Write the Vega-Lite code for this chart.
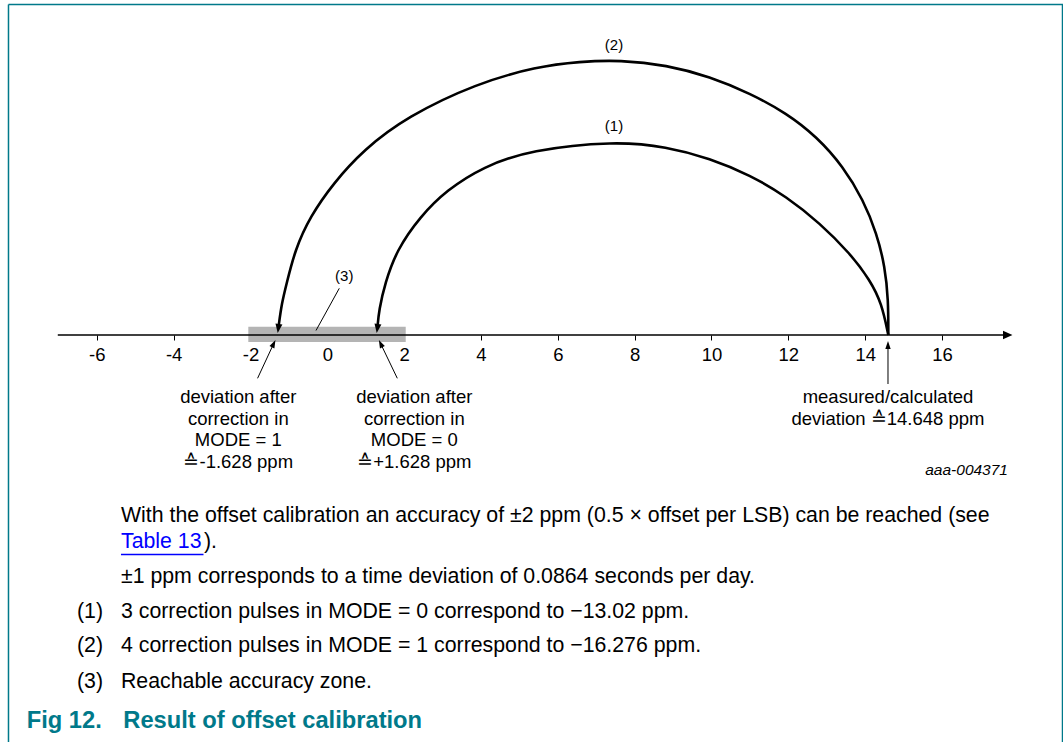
{
  "$schema": "https://vega.github.io/schema/vega-lite/v6.json",
  "width": 1063,
  "height": 742,
  "padding": 0,
  "autosize": {"type": "none"},
  "background": "white",
  "config": {"view": {"stroke": null}},
  "datasets": {
    "arcs": [
      {"arc": 2, "seq": 1, "x": 14.602, "y": 0},
      {"arc": 2, "seq": 2, "x": 14.602, "y": 35},
      {"arc": 2, "seq": 3, "x": 14.516, "y": 68.3},
      {"arc": 2, "seq": 4, "x": 14.300, "y": 101.7},
      {"arc": 2, "seq": 5, "x": 13.951, "y": 135},
      {"arc": 2, "seq": 6, "x": 13.431, "y": 168.3},
      {"arc": 2, "seq": 7, "x": 12.738, "y": 198.3},
      {"arc": 2, "seq": 8, "x": 11.957, "y": 221.7},
      {"arc": 2, "seq": 9, "x": 11.002, "y": 241.7},
      {"arc": 2, "seq": 10, "x": 9.961, "y": 258.3},
      {"arc": 2, "seq": 11, "x": 8.834, "y": 270},
      {"arc": 2, "seq": 12, "x": 7.618, "y": 275},
      {"arc": 2, "seq": 13, "x": 6.577, "y": 273.5},
      {"arc": 2, "seq": 14, "x": 5.450, "y": 268.3},
      {"arc": 2, "seq": 15, "x": 3.889, "y": 251.7},
      {"arc": 2, "seq": 16, "x": 2.067, "y": 218.3},
      {"arc": 2, "seq": 17, "x": 0.937, "y": 185},
      {"arc": 2, "seq": 18, "x": 0.156, "y": 151.7},
      {"arc": 2, "seq": 19, "x": -0.450, "y": 118.3},
      {"arc": 2, "seq": 20, "x": -0.841, "y": 85},
      {"arc": 2, "seq": 21, "x": -1.057, "y": 51.7},
      {"arc": 2, "seq": 22, "x": -1.187, "y": 31.7},
      {"arc": 2, "seq": 23, "x": -1.273, "y": 7},
      {"arc": 1, "seq": 1, "x": 14.602, "y": 0},
      {"arc": 1, "seq": 2, "x": 14.430, "y": 31.7},
      {"arc": 1, "seq": 3, "x": 14.126, "y": 55},
      {"arc": 1, "seq": 4, "x": 13.605, "y": 81.7},
      {"arc": 1, "seq": 5, "x": 12.824, "y": 111.7},
      {"arc": 1, "seq": 6, "x": 11.957, "y": 138.3},
      {"arc": 1, "seq": 7, "x": 11.002, "y": 160},
      {"arc": 1, "seq": 8, "x": 9.961, "y": 176.7},
      {"arc": 1, "seq": 9, "x": 8.834, "y": 188.3},
      {"arc": 1, "seq": 10, "x": 7.488, "y": 194},
      {"arc": 1, "seq": 11, "x": 5.276, "y": 185},
      {"arc": 1, "seq": 12, "x": 4.060, "y": 168.3},
      {"arc": 1, "seq": 13, "x": 3.108, "y": 145},
      {"arc": 1, "seq": 14, "x": 2.413, "y": 118.3},
      {"arc": 1, "seq": 15, "x": 1.806, "y": 85},
      {"arc": 1, "seq": 16, "x": 1.502, "y": 51.7},
      {"arc": 1, "seq": 17, "x": 1.346, "y": 25},
      {"arc": 1, "seq": 18, "x": 1.304, "y": 7}
    ],
    "band": [
      {"x": -2.056, "x2": 2.041, "y": 8.3, "y2": -7}
    ],
    "segs": [
      {"kind": "axis", "x": -7.015, "y": 0, "x2": 17.65, "y2": 0},
      {"kind": "thin", "x": 0.312, "y": 46.7, "x2": -0.294, "y2": 4.5},
      {"kind": "thin", "x": -1.815, "y": -43.3, "x2": -1.400, "y2": -9},
      {"kind": "thin", "x": 1.822, "y": -43.3, "x2": 1.393, "y2": -9},
      {"kind": "thin", "x": 14.594, "y": -49, "x2": 14.594, "y2": -10.5},
      {"kind": "border", "x": -8.298, "y": 330.5, "x2": 19.149, "y2": 330.5},
      {"kind": "border", "x": -8.298, "y": 330.5, "x2": -8.298, "y2": -407},
      {"kind": "border", "x": 19.136, "y": 330.5, "x2": 19.136, "y2": -407},
      {"kind": "link", "x": -5.370, "y": -219.5, "x2": -3.222, "y2": -219.5}
    ],
    "heads": [
      {"kind": "arc", "x": -1.273, "y": 7},
      {"kind": "arc", "x": 1.304, "y": 7},
      {"kind": "pl", "x": -1.400, "y": -9},
      {"kind": "pr", "x": 1.393, "y": -9},
      {"kind": "pv", "x": 14.594, "y": -10.5},
      {"kind": "ax", "x": 17.697, "y": 0}
    ],
    "texts": [
      {"kind": "num", "x": 7.462, "y": 285, "t": "(2)"},
      {"kind": "num", "x": 7.462, "y": 204.5, "t": "(1)"},
      {"kind": "num", "x": 0.442, "y": 54.5, "t": "(3)"},
      {"kind": "diag", "x": -2.317, "y": -68, "t": "deviation after"},
      {"kind": "diag", "x": -2.317, "y": -89.5, "t": "correction in"},
      {"kind": "diag", "x": -2.317, "y": -111, "t": "MODE = 1"},
      {"kind": "diag", "x": -2.317, "y": -132.5, "t": "≙-1.628 ppm"},
      {"kind": "diag", "x": 2.264, "y": -68, "t": "deviation after"},
      {"kind": "diag", "x": 2.264, "y": -89.5, "t": "correction in"},
      {"kind": "diag", "x": 2.264, "y": -111, "t": "MODE = 0"},
      {"kind": "diag", "x": 2.264, "y": -132.5, "t": "≙+1.628 ppm"},
      {"kind": "diag", "x": 14.594, "y": -68, "t": "measured/calculated"},
      {"kind": "diag", "x": 14.594, "y": -89.5, "t": "deviation ≙14.648 ppm"},
      {"kind": "code", "x": 17.717, "y": -140, "t": "aaa-004371"},
      {"kind": "body", "x": -5.370, "y": -186.7, "t": "With the offset calibration an accuracy of ±2 ppm (0.5 × offset per LSB) can be reached (see"},
      {"kind": "link", "x": -5.370, "y": -213.3, "t": "Table 13"},
      {"kind": "body", "x": -3.209, "y": -213.3, "t": ")."},
      {"kind": "body", "x": -5.370, "y": -248.3, "t": "±1 ppm corresponds to a time deviation of 0.0864 seconds per day."},
      {"kind": "body", "x": -6.515, "y": -283.3, "t": "(1)"},
      {"kind": "body", "x": -5.370, "y": -283.3, "t": "3 correction pulses in MODE = 0 correspond to −13.02 ppm."},
      {"kind": "body", "x": -6.515, "y": -317.3, "t": "(2)"},
      {"kind": "body", "x": -5.370, "y": -317.3, "t": "4 correction pulses in MODE = 1 correspond to −16.276 ppm."},
      {"kind": "body", "x": -6.515, "y": -352.7, "t": "(3)"},
      {"kind": "body", "x": -5.370, "y": -352.7, "t": "Reachable accuracy zone."},
      {"kind": "fig", "x": -7.824, "y": -393.3, "t": "Fig 12."},
      {"kind": "fig", "x": -5.310, "y": -393.3, "t": "Result of offset calibration"}
    ]
  },
  "encoding": {
    "x": {
      "field": "x",
      "type": "quantitative",
      "scale": {"domain": [-8.519, 19.149], "nice": false, "zero": false},
      "axis": {
        "orient": "bottom",
        "offset": -407,
        "values": [-6, -4, -2, 0, 2, 4, 6, 8, 10, 12, 14, 16],
        "labelExpr": "datum.value + ''",
        "domain": false,
        "grid": false,
        "title": null,
        "ticks": true,
        "tickSize": 5,
        "tickWidth": 1,
        "tickColor": "#000000",
        "labelFont": "Liberation Sans",
        "labelFontSize": 18.5,
        "labelColor": "#000000",
        "labelPadding": 5,
        "labelFlush": false,
        "labelOverlap": false
      }
    },
    "y": {
      "field": "y",
      "type": "quantitative",
      "scale": {"domain": [-407, 335], "nice": false, "zero": false},
      "axis": null
    }
  },
  "layer": [
    {
      "data": {"name": "band"},
      "mark": {"type": "rect", "color": "#b4b4b4"},
      "encoding": {"x2": {"field": "x2"}, "y2": {"field": "y2"}}
    },
    {
      "data": {"name": "segs"},
      "transform": [{"filter": "datum.kind == 'axis'"}],
      "mark": {"type": "rule", "color": "#000000", "strokeWidth": 1.5},
      "encoding": {"x2": {"field": "x2"}, "y2": {"field": "y2"}}
    },
    {
      "data": {"name": "segs"},
      "transform": [{"filter": "datum.kind == 'thin'"}],
      "mark": {"type": "rule", "color": "#000000", "strokeWidth": 1},
      "encoding": {"x2": {"field": "x2"}, "y2": {"field": "y2"}}
    },
    {
      "data": {"name": "segs"},
      "transform": [{"filter": "datum.kind == 'border'"}],
      "mark": {"type": "rule", "color": "#00798a", "strokeWidth": 1.5},
      "encoding": {"x2": {"field": "x2"}, "y2": {"field": "y2"}}
    },
    {
      "data": {"name": "segs"},
      "transform": [{"filter": "datum.kind == 'link'"}],
      "mark": {"type": "rule", "color": "#0000ff", "strokeWidth": 1.5},
      "encoding": {"x2": {"field": "x2"}, "y2": {"field": "y2"}}
    },
    {
      "data": {"name": "arcs"},
      "mark": {"type": "line", "color": "#000000", "strokeWidth": 2.6, "interpolate": "basis"},
      "encoding": {"detail": {"field": "arc"}, "order": {"field": "seq"}}
    },
    {
      "data": {"name": "heads"},
      "transform": [{"filter": "datum.kind == 'arc'"}],
      "mark": {"type": "point", "shape": "M0,-1L0.7,0.8L-0.7,0.8Z", "filled": true, "size": 100, "angle": 188, "color": "#000000", "opacity": 1}
    },
    {
      "data": {"name": "heads"},
      "transform": [{"filter": "datum.kind == 'pl'"}],
      "mark": {"type": "point", "shape": "M0,-1L0.6,0.8L-0.6,0.8Z", "filled": true, "size": 80, "angle": 26, "color": "#000000", "opacity": 1}
    },
    {
      "data": {"name": "heads"},
      "transform": [{"filter": "datum.kind == 'pr'"}],
      "mark": {"type": "point", "shape": "M0,-1L0.6,0.8L-0.6,0.8Z", "filled": true, "size": 80, "angle": 334, "color": "#000000", "opacity": 1}
    },
    {
      "data": {"name": "heads"},
      "transform": [{"filter": "datum.kind == 'pv'"}],
      "mark": {"type": "point", "shape": "M0,-1L0.6,0.8L-0.6,0.8Z", "filled": true, "size": 80, "angle": 0, "color": "#000000", "opacity": 1}
    },
    {
      "data": {"name": "heads"},
      "transform": [{"filter": "datum.kind == 'ax'"}],
      "mark": {"type": "point", "shape": "M0,-1L0.8,0.8L-0.8,0.8Z", "filled": true, "size": 110, "angle": 90, "color": "#000000", "opacity": 1}
    },
    {
      "data": {"name": "texts"},
      "transform": [{"filter": "datum.kind == 'num'"}],
      "mark": {"type": "text", "align": "center", "baseline": "alphabetic", "font": "Liberation Sans", "fontSize": 15, "color": "#000000"},
      "encoding": {"text": {"field": "t"}}
    },
    {
      "data": {"name": "texts"},
      "transform": [{"filter": "datum.kind == 'diag'"}],
      "mark": {"type": "text", "align": "center", "baseline": "alphabetic", "font": "Liberation Sans", "fontSize": 18.5, "color": "#000000"},
      "encoding": {"text": {"field": "t"}}
    },
    {
      "data": {"name": "texts"},
      "transform": [{"filter": "datum.kind == 'code'"}],
      "mark": {"type": "text", "align": "right", "baseline": "alphabetic", "font": "Liberation Sans", "fontSize": 15.5, "fontStyle": "italic", "color": "#000000"},
      "encoding": {"text": {"field": "t"}}
    },
    {
      "data": {"name": "texts"},
      "transform": [{"filter": "datum.kind == 'body'"}],
      "mark": {"type": "text", "align": "left", "baseline": "alphabetic", "font": "Liberation Sans", "fontSize": 21.3, "color": "#000000"},
      "encoding": {"text": {"field": "t"}}
    },
    {
      "data": {"name": "texts"},
      "transform": [{"filter": "datum.kind == 'link'"}],
      "mark": {"type": "text", "align": "left", "baseline": "alphabetic", "font": "Liberation Sans", "fontSize": 21.3, "color": "#0000ff"},
      "encoding": {"text": {"field": "t"}}
    },
    {
      "data": {"name": "texts"},
      "transform": [{"filter": "datum.kind == 'fig'"}],
      "mark": {"type": "text", "align": "left", "baseline": "alphabetic", "font": "Liberation Sans", "fontSize": 23.7, "fontWeight": "bold", "color": "#00798a"},
      "encoding": {"text": {"field": "t"}}
    }
  ]
}
